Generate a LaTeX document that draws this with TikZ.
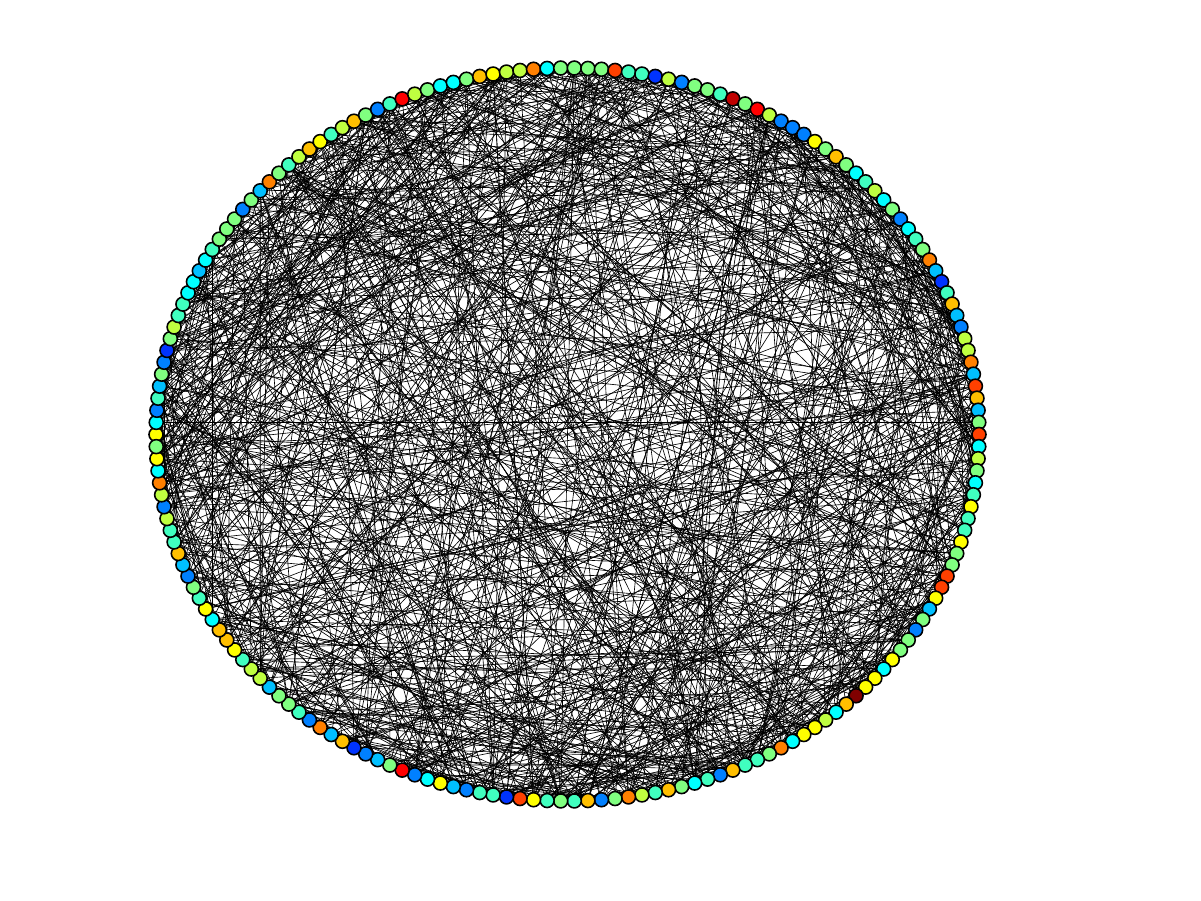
\documentclass[tikz,border=0pt]{standalone}
\usepackage{tikz}

% jet colours
\definecolor{jB}{rgb}{0,0.2,1}
\definecolor{jA}{rgb}{0,0.5,1}
\definecolor{jS}{rgb}{0,0.75,1}
\definecolor{jC}{rgb}{0,1,1}
\definecolor{jT}{rgb}{0.25,1,0.75}
\definecolor{jG}{rgb}{0.5,1,0.5}
\definecolor{jL}{rgb}{0.75,1,0.25}
\definecolor{jY}{rgb}{1,1,0}
\definecolor{jO}{rgb}{1,0.75,0}
\definecolor{jR}{rgb}{1,0.5,0}
\definecolor{jE}{rgb}{1,0.25,0}
\definecolor{jD}{rgb}{1,0,0}
\definecolor{jM}{rgb}{0.75,0,0}
\definecolor{jN}{rgb}{0.5,0,0}

\tikzset{
  vertex/.style={circle, draw=black, line width=0.45pt, inner sep=0pt, minimum size=0.14cm},
  link/.style={line width=0.18pt, black}
}

\begin{document}
\begin{tikzpicture}
    \fill[white] (0,0) rectangle (12.01,9.01);
    \useasboundingbox (0,0) rectangle (12.01,9.01);
    % places on the ring
    \foreach \i in {0,...,189}
        \coordinate (p\i) at ({5.675+4.115*cos(180-\i*1.8947368)},{4.665+3.665*sin(180-\i*1.8947368)});
    % links: ring neighbours and random shortcuts
    \pgfmathsetseed{7}
    \foreach \i in {0,...,189} {
        \pgfmathtruncatemacro{\ka}{mod(\i+1,190)}
        \pgfmathtruncatemacro{\kb}{mod(\i+2,190)}
        \draw[link] (p\i) -- (p\ka);
        \draw[link] (p\i) -- (p\kb);
        \foreach \r in {1,...,5} {
            \pgfmathrandominteger{\j}{0}{189}
            \draw[link] (p\i) -- (p\j);
        }
    }
    % nodes
    \foreach \c [count=\i from 0] in {Y,C,A,T,S,G,A,B,G,L,T,T,C,C,S,C,T,G,G,G,A,G,S,R,G,T,L,O,Y,T,L,O,G,A,T,D,
        L,G,C,C,G,O,Y,L,L,R,C,G,G,G,G,E,
        T,T,B,L,A,G,G,T,M,G,D,L,A,A,
        A,Y,G,O,G,C,T,L,C,G,A,
        C,T,G,R,S,B,T,O,S,A,L,L,R,S,E,O,S,G,E,
        C,L,G,C,T,Y,T,T,Y,G,G,E,E,Y,S,G,
        A,G,G,Y,C,Y,Y,N,O,C,L,
        Y,Y,C,R,G,T,T,O,A,T,C,G,O,T,L,R,G,
        A,O,T,G,T,Y,E,B,T,T,A,S,Y,C,A,D,G,
        S,A,B,O,S,R,A,T,G,G,S,L,L,T,Y,
        O,O,C,Y,T,G,A,S,O,T,T,L,A,L,R,C,
        Y,G}
        \node[vertex, fill=j\c] (n\i) at (p\i) {};
\end{tikzpicture}
\end{document}
